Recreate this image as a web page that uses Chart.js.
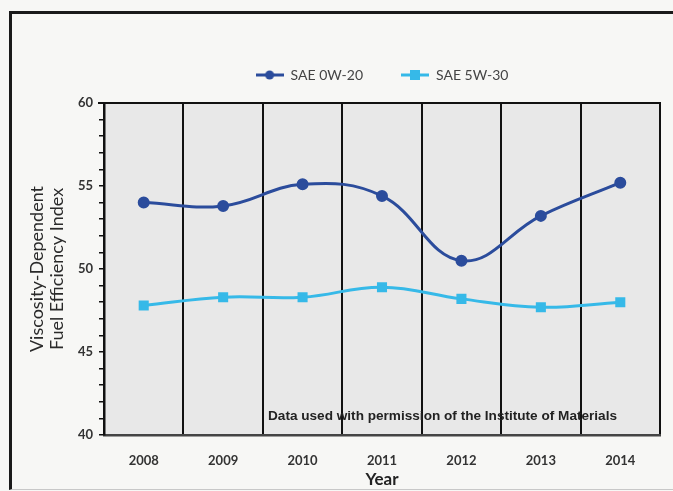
<!DOCTYPE html>
<html>
<head>
<meta charset="utf-8">
<script src="https://cdn.jsdelivr.net/npm/chart.js@4"></script>
<style>
  body { margin: 0; background: #f7f7f5; }
  #wrap { position: relative; width: 673px; height: 491px; overflow: hidden; }
  #frame { position: absolute; left: 9px; top: 11px; width: 700px; height: 475px;
           border-left: 3px solid #1a1a1a; border-top: 3px solid #1a1a1a; border-bottom: 1px solid #c8c8c8; }
  canvas { position: absolute; left: 0; top: 0; }
</style>
</head>
<body>
<div id="wrap"><div id="frame"></div><canvas id="chart" width="673" height="491"></canvas></div>
<script>
// data
const years = ['2008', '2009', '2010', '2011', '2012', '2013', '2014'];
const sae0w20 = [54.0, 53.8, 55.1, 54.4, 50.5, 53.2, 55.2];
const sae5w30 = [47.8, 48.3, 48.3, 48.9, 48.2, 47.7, 48.0];
const seriesNames = ['SAE 0W-20', 'SAE 5W-30'];
const yTitle = ['Viscosity-Dependent', 'Fuel Efficiency Index'];
const xTitle = 'Year';
const note = 'Data used with permission of the Institute of Materials';

// colours
const darkBlue = '#2b4c9c';
const lightBlue = '#36b9e8';

// legend icons: line with marker
function legendIcon(color, square) {
    const c = document.createElement('canvas');
    c.width = 28; c.height = 12;
    const g = c.getContext('2d');
    g.strokeStyle = color; g.lineWidth = 3;
    g.beginPath(); g.moveTo(0, 6); g.lineTo(28, 6); g.stroke();
    g.fillStyle = color;
    if (square) {
        g.fillRect(9, 1, 10, 10);
    } else {
        g.beginPath(); g.arc(14, 6, 4.5, 0, Math.PI * 2); g.fill();
    }
    return c;
}
const icons = [legendIcon(darkBlue, false), legendIcon(lightBlue, true)];

// plot background, top edge, note and legend placement
const decor = {
    id: 'decor',
    afterLayout(chart) {
        const lg = chart.legend;
        const area = chart.chartArea;
        const dx = (area.left + area.right) / 2 - (lg.left + lg.right) / 2;
        lg.left += dx; lg.right += dx;
        const dy = -11;
        lg.top += dy; lg.bottom += dy;
    },
    beforeDraw(chart) {
        const {ctx, chartArea: a} = chart;
        ctx.save();
        ctx.fillStyle = '#e8e8e8';
        ctx.fillRect(a.left, a.top, a.right - a.left, a.bottom - a.top);
        ctx.restore();
    },
    beforeDatasetsDraw(chart) {
        const {ctx, chartArea: a} = chart;
        ctx.save();
        ctx.strokeStyle = '#111';
        ctx.lineWidth = 2;
        ctx.beginPath(); ctx.moveTo(a.left - 6, a.top); ctx.lineTo(a.right + 1, a.top); ctx.stroke();
        ctx.restore();
    },
    afterDatasetsDraw(chart) {
        const {ctx, chartArea: a} = chart;
        ctx.save();
        ctx.font = 'bold 13px "Liberation Sans"';
        ctx.fillStyle = '#222';
        ctx.textBaseline = 'middle';
        const w = ctx.measureText(note).width;
        ctx.translate(a.left + 164, a.bottom - 19);
        ctx.scale(349 / w, 1);
        ctx.fillText(note, 0, 0);
        ctx.restore();
    }
};

new Chart(document.getElementById('chart'), {
    type: 'line',
    data: {
        labels: years,
        datasets: [{
            label: seriesNames[0],
            data: sae0w20,
            borderColor: darkBlue,
            backgroundColor: darkBlue,
            borderWidth: 3,
            pointStyle: 'circle',
            pointRadius: 4.5,
            tension: 0.4
        }, {
            label: seriesNames[1],
            data: sae5w30,
            borderColor: lightBlue,
            backgroundColor: lightBlue,
            borderWidth: 3,
            pointStyle: 'rect',
            pointRadius: 5,
            tension: 0.4
        }]
    },
    options: {
        responsive: false,
        animation: false,
        layout: { padding: { left: 0, right: 13, top: 41, bottom: 0 } },
        plugins: {
            tooltip: { enabled: false },
            legend: {
                position: 'top',
                labels: {
                    usePointStyle: true,
                    pointStyleWidth: 28,
                    boxHeight: 12,
                    padding: 38,
                    color: '#444',
                    font: { family: 'Lato', size: 14 },
                    generateLabels: chart => Chart.defaults.plugins.legend.labels.generateLabels(chart)
                        .map((l, i) => ({ ...l, pointStyle: icons[i] }))
                }
            }
        },
        scales: {
            x: {
                offset: true,
                afterFit: s => { s.height = 56; },
                grid: { offset: true, color: '#111', lineWidth: 2, drawTicks: false },
                border: { display: true, color: '#444', width: 2.5 },
                ticks: { padding: 18, maxRotation: 0, color: '#333', font: { family: 'Lato', size: 13, weight: 'bold' } },
                title: { display: true, text: xTitle, color: '#222', padding: { top: 0, bottom: 1 },
                         font: { family: 'Lato', size: 17, weight: 'bold' } }
            },
            y: {
                min: 40,
                max: 60,
                afterFit: s => { s.width = 104; },
                grid: { drawOnChartArea: false, drawTicks: true, tickLength: 5, color: '#111', lineWidth: 1.5 },
                border: { display: true, color: '#111', width: 2.5 },
                ticks: {
                    stepSize: 1,
                    autoSkip: false,
                    padding: 6,
                    color: '#333',
                    font: { family: 'Lato', size: 13, weight: 'bold' },
                    callback: v => (v % 5 === 0 ? v : '')
                },
                title: { display: true, text: yTitle, color: '#2a2a2a', padding: { top: 27, bottom: 0 },
                         font: { family: 'Lato', size: 18, lineHeight: 1.11 } }
            }
        }
    },
    plugins: [decor]
});
</script>
</body>
</html>
